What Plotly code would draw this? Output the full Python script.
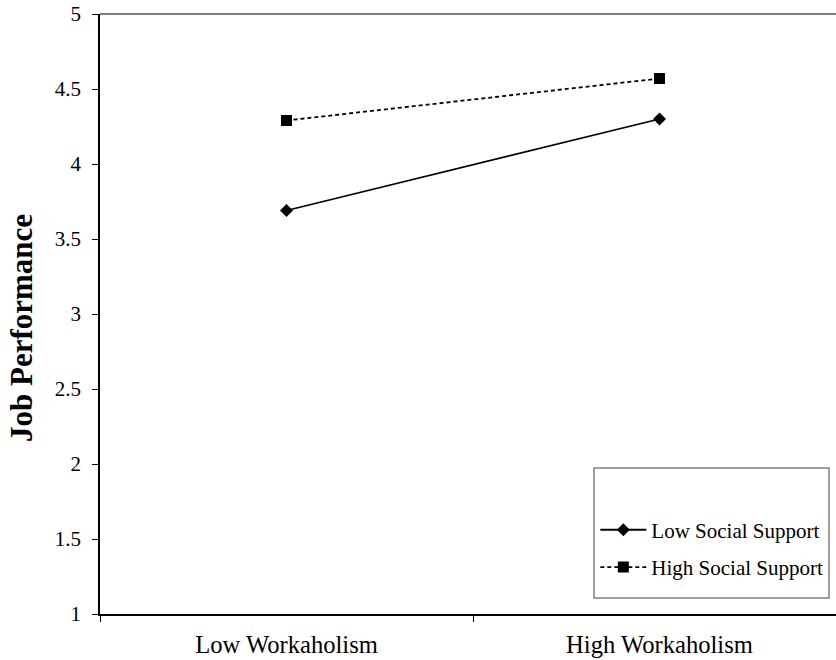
import plotly.graph_objects as go

categories = ["Low Workaholism", "High Workaholism"]
low_support = [3.69, 4.30]
high_support = [4.29, 4.57]
series_names = ["Low Social Support", "High Social Support"]
y_title = "Job Performance"

FONT = "Liberation Serif, Times New Roman, serif"

fig = go.Figure()
fig.add_trace(go.Scatter(
    x=categories, y=low_support, name=series_names[0], mode="lines+markers",
    line=dict(color="black", width=1.8),
    marker=dict(symbol="diamond", size=10, color="black"),
    legendgroup="a",
))
fig.add_trace(go.Scatter(
    x=categories, y=high_support, name=series_names[1], mode="lines+markers",
    line=dict(color="black", width=1.8, dash="4px,3px"),
    marker=dict(symbol="square", size=11, color="black"),
    legendgroup="b",
))

fig.update_layout(
    width=836, height=660,
    margin=dict(l=100, r=0, t=14, b=46),
    paper_bgcolor="white", plot_bgcolor="white",
    font=dict(family=FONT, color="black"),
    showlegend=True,
    legend=dict(
        x=0.673, y=0.109, xanchor="left", yanchor="middle",
        bgcolor="rgba(0,0,0,0)", borderwidth=0,
        font=dict(size=21, family=FONT, color="black"),
        tracegroupgap=7, traceorder="grouped", itemwidth=46,
    ),
    xaxis=dict(
        type="category", range=[-0.5, 1.4732],
        showline=True, linecolor="black", linewidth=1.5,
        ticks="outside", ticklen=6, tickcolor="black", tickwidth=1.2,
        tickson="boundaries", showgrid=False, zeroline=False,
        ticklabelstandoff=8,
        tickfont=dict(size=24.6, family=FONT, color="black"),
    ),
    yaxis=dict(
        range=[1, 5], dtick=0.5, tick0=1,
        showline=True, linecolor="black", linewidth=1.5,
        ticks="outside", ticklen=6, tickcolor="black", tickwidth=1.2,
        showgrid=False, zeroline=False, ticklabelstandoff=7,
        tickfont=dict(size=21, family=FONT, color="black"),
    ),
    shapes=[
        dict(type="line", xref="paper", yref="paper", x0=0, x1=1, y0=1, y1=1,
             line=dict(color="#808080", width=1.8)),
        dict(type="rect", xref="paper", yref="paper",
             x0=(594 - 100) / 736, x1=(829 - 100) / 736,
             y0=(614 - 598) / 600, y1=(614 - 468) / 600,
             line=dict(color="#808080", width=1.5), fillcolor="rgba(0,0,0,0)"),
    ],
    annotations=[
        dict(text="<b>" + y_title + "</b>", xref="paper", yref="paper",
             x=(21 - 100) / 736, y=(614 - 328) / 600, xanchor="center", yanchor="middle",
             textangle=-90, showarrow=False,
             font=dict(size=31, family=FONT, color="black")),
    ],
)

fig.write_html("out.html", config={"displayModeBar": False},
               post_script="document.body.style.margin='0px';")
